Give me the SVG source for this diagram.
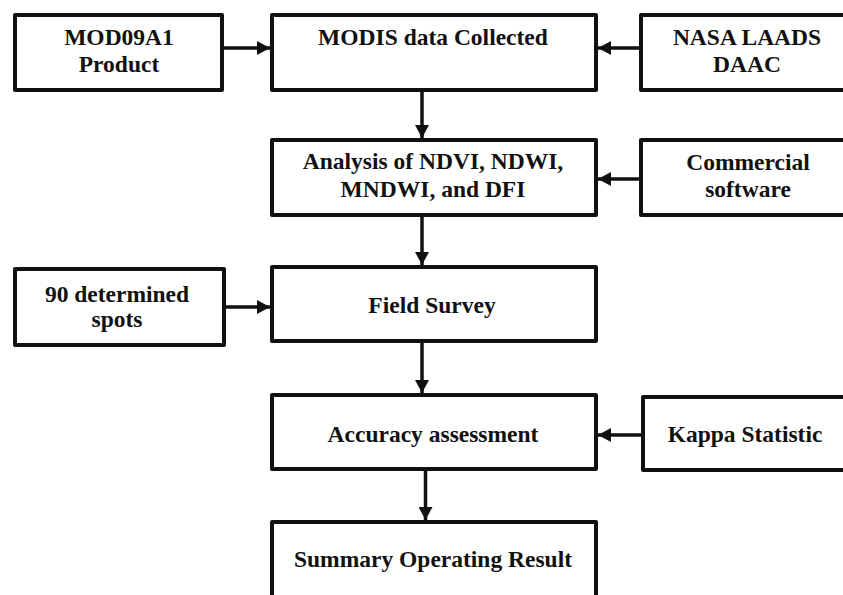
<svg xmlns="http://www.w3.org/2000/svg" width="843" height="595" viewBox="0 0 843 595">
<defs>
<style>
.box{fill:#fff;stroke:#111;stroke-width:4;stroke-linejoin:round}
.t{font-family:"Liberation Serif","Times New Roman",serif;font-weight:bold;font-size:23.5px;fill:#111;text-anchor:middle}
.c{stroke:#111;stroke-width:3.5;fill:none;marker-end:url(#ah)}
</style>
<marker id="ah" markerWidth="14" markerHeight="14" refX="13" refY="7" orient="auto" markerUnits="userSpaceOnUse">
<path d="M0,0 L13,7 L0,14 z" fill="#111"/>
</marker>
</defs>
<rect width="843" height="595" fill="#fff"/>
<g id="connectors">
<line class="c" x1="224" y1="48" x2="270" y2="48"/>
<line class="c" x1="639" y1="48" x2="598" y2="48"/>
<line class="c" x1="422" y1="92" x2="422" y2="138"/>
<line class="c" x1="639" y1="179" x2="598" y2="179"/>
<line class="c" x1="422" y1="217" x2="422" y2="265"/>
<line class="c" x1="226" y1="307" x2="270" y2="307"/>
<line class="c" x1="422" y1="343" x2="422" y2="393"/>
<line class="c" x1="641" y1="435" x2="598" y2="435"/>
<line class="c" x1="425.5" y1="471" x2="425.5" y2="520"/>
</g>
<g id="mod09a1">
<rect class="box" x="15" y="15" width="207" height="75"/>
<text class="t" x="119" y="45">MOD09A1</text>
<text class="t" x="119" y="72">Product</text>
</g>
<g id="modis">
<rect class="box" x="272" y="15" width="324" height="75"/>
<text class="t" x="433" y="45">MODIS data Collected</text>
</g>
<g id="nasa">
<rect class="box" x="641" y="15" width="214" height="75"/>
<text class="t" x="747" y="45">NASA LAADS</text>
<text class="t" x="747" y="72">DAAC</text>
</g>
<g id="analysis">
<rect class="box" x="272" y="140" width="324" height="75"/>
<text class="t" x="433" y="169">Analysis of NDVI, NDWI,</text>
<text class="t" x="433" y="196.5">MNDWI, and DFI</text>
</g>
<g id="commercial">
<rect class="box" x="641" y="140" width="214" height="75"/>
<text class="t" x="748" y="170">Commercial</text>
<text class="t" x="748" y="197">software</text>
</g>
<g id="spots">
<rect class="box" x="15" y="269" width="209" height="76"/>
<text class="t" x="117" y="302">90 determined</text>
<text class="t" x="117" y="327">spots</text>
</g>
<g id="field">
<rect class="box" x="272" y="267" width="324" height="74"/>
<text class="t" x="432" y="313">Field Survey</text>
</g>
<g id="accuracy">
<rect class="box" x="272" y="395" width="324" height="74"/>
<text class="t" x="433" y="441.5">Accuracy assessment</text>
</g>
<g id="kappa">
<rect class="box" x="643" y="397" width="214" height="73"/>
<text class="t" x="745" y="441.5">Kappa Statistic</text>
</g>
<g id="summary">
<rect class="box" x="272" y="522" width="324" height="80"/>
<text class="t" x="433" y="566.5">Summary Operating Result</text>
</g>
</svg>
